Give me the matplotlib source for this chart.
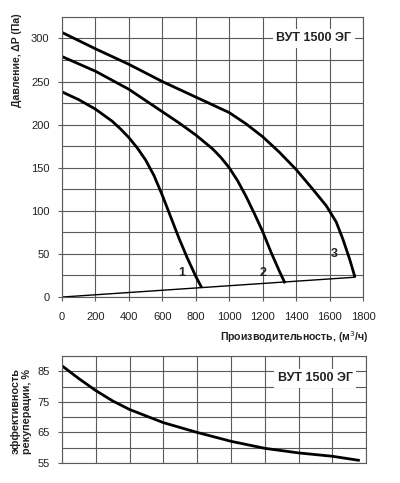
import matplotlib.pyplot as plt
from matplotlib.ticker import MultipleLocator

# pressure curves (x in m3/h, y in Pa)
x1 = [0, 100, 200, 300, 350, 400, 450, 500, 550, 600, 650, 700, 750, 800, 835]
y1 = [238, 229, 218, 204, 195, 185, 173, 159, 141, 118, 93, 68, 45, 24, 11]

x2 = [0, 200, 400, 600, 700, 800, 850, 900, 950, 1000, 1050, 1100, 1150, 1200, 1250, 1300, 1334]
y2 = [279, 262, 241, 215, 202, 188, 180, 172, 162, 150, 135, 117, 97, 76, 52, 30, 16]

x3 = [0, 200, 400, 600, 800, 1000, 1100, 1200, 1300, 1400, 1500, 1580, 1640, 1680, 1720, 1752]
y3 = [307, 288, 270, 250, 232, 214, 201, 186, 168, 148, 125, 106, 87, 67, 44, 23]

# network line
xs = [0, 1752]
ys = [0, 23]

# recuperation efficiency, %
xe = [0, 100, 200, 300, 400, 600, 800, 1000, 1200, 1400, 1600, 1754]
ye = [86.8, 82.6, 78.7, 75.3, 72.5, 68.2, 65.0, 62.1, 59.8, 58.3, 57.2, 55.9]

plt.rcParams['font.family'] = ['Liberation Sans', 'DejaVu Sans']
fig = plt.figure(figsize=(4, 4.83), dpi=100)
grid_c = '#5a5a5a'
txt_c = '#222222'
curve_lw = 2.0

ax = fig.add_axes([0.155, 0.385, 0.7525, 0.58])
ax.plot(x1, y1, c='k', lw=curve_lw, solid_capstyle='butt')
ax.plot(x2, y2, c='k', lw=curve_lw, solid_capstyle='butt')
ax.plot(x3, y3, c='k', lw=curve_lw, solid_capstyle='butt')
ax.plot(xs, ys, c='k', lw=1.0)
ax.set_xlim(0, 1800)
ax.set_ylim(0, 325)
ax.xaxis.set_major_locator(MultipleLocator(200))
ax.yaxis.set_major_locator(MultipleLocator(50))
ax.yaxis.set_minor_locator(MultipleLocator(25))
ax.grid(True, which='both', color=grid_c, lw=0.8)
ax.tick_params(which='major', length=3, width=0.8, color=grid_c, labelsize=8, labelcolor=txt_c)
ax.tick_params(axis='y', pad=6)
ax.tick_params(axis='x', pad=8)
ax.tick_params(which='minor', length=0)
for s in ax.spines.values():
    s.set_color(grid_c)
    s.set_linewidth(0.8)
ax.text(1506, 300, 'ВУТ 1500 ЭГ', fontsize=9, fontweight='bold', ha='center', va='center',
        color=txt_c, bbox=dict(fc='white', ec='none', pad=2.5))
ax.text(716, 27.5, '1', fontsize=9, fontweight='bold', ha='center', va='center', color=txt_c)
ax.text(1204, 28, '2', fontsize=9, fontweight='bold', ha='center', va='center', color=txt_c)
ax.text(1628, 49.5, '3', fontsize=9, fontweight='bold', ha='center', va='center', color=txt_c)

fig.text(0.92, 0.302, 'Производительность, (м$^3$/ч)', fontsize=7.6, fontweight='bold',
         ha='right', va='center', color=txt_c)
fig.text(0.0425, 0.876, 'Давление, ΔP (Па)', fontsize=7.6, fontweight='bold',
         ha='center', va='center', rotation=90, color=txt_c)

ax2 = fig.add_axes([0.155, 0.0414, 0.7605, 0.2215])
ax2.plot(xe, ye, c='k', lw=curve_lw)
ax2.set_xlim(0, 1800)
ax2.set_ylim(55, 90)
ax2.xaxis.set_major_locator(MultipleLocator(200))
ax2.set_yticks([55, 65, 75, 85])
ax2.yaxis.set_minor_locator(MultipleLocator(5))
ax2.grid(True, which='both', color=grid_c, lw=0.8)
ax2.tick_params(which='major', length=3, width=0.8, color=grid_c, labelsize=8, labelcolor=txt_c, pad=6)
ax2.tick_params(which='minor', length=0)
ax2.tick_params(axis='x', labelbottom=False, length=0)
for s in ax2.spines.values():
    s.set_color(grid_c)
    s.set_linewidth(0.8)
ax2.text(1498, 82.7, 'ВУТ 1500 ЭГ', fontsize=9, fontweight='bold', ha='center', va='center',
         color=txt_c, bbox=dict(fc='white', ec='none', pad=2.5))
fig.text(0.054, 0.149, 'эффективность\nрекуперации, %', fontsize=7.8, fontweight='bold',
         ha='center', va='center', rotation=90, color=txt_c, linespacing=1.1)

fig.savefig('out.png', dpi=100)
